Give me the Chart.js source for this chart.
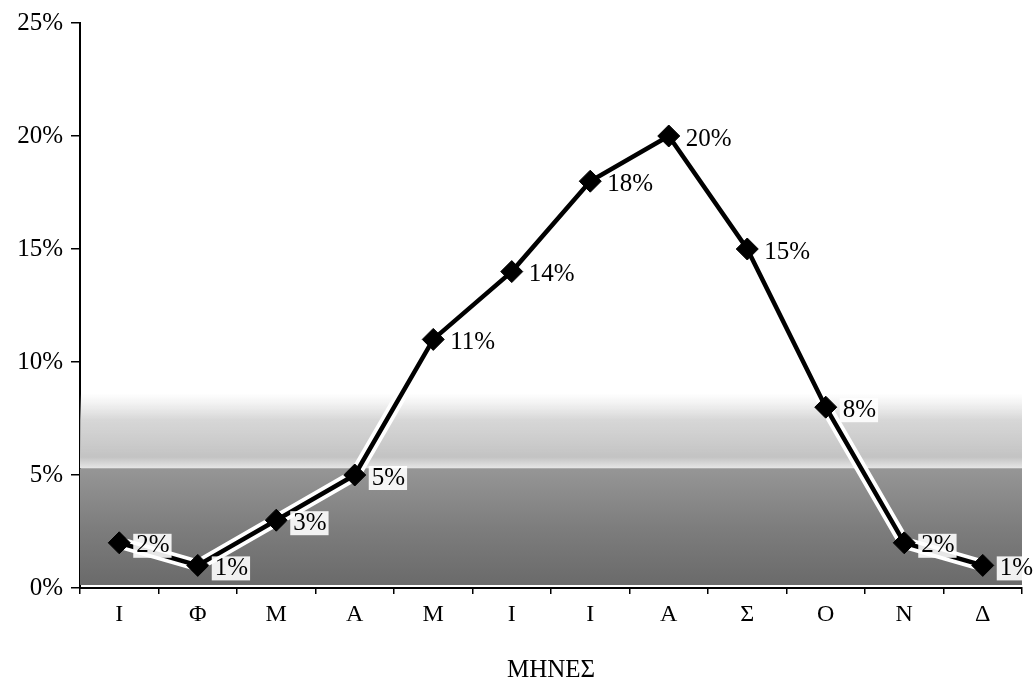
<!DOCTYPE html>
<html>
<head>
<meta charset="utf-8">
<script src="https://cdn.jsdelivr.net/npm/chart.js@4"></script>
<style>
html,body{margin:0;padding:0;background:#fff;}
#wrap{width:1034px;height:685px;}
</style>
</head>
<body>
<div id="wrap"><canvas id="c" width="1034" height="685"></canvas></div>
<script>
const months = ["Ι","Φ","Μ","Α","Μ","Ι","Ι","Α","Σ","Ο","Ν","Δ"];
const values = [2,1,3,5,11,14,18,20,15,8,2,1];
const yTicks = [0,5,10,15,20,25];
const xTitle = "ΜΗΝΕΣ";

const FONT = "'Liberation Serif','DejaVu Serif',serif";

const bgPlugin = {
  id: 'bg',
  beforeDatasetsDraw(chart) {
    const {ctx, chartArea: a, scales: {y}} = chart;
    ctx.save();
    const yTop = y.getPixelForValue(8.6);
    const yMid = y.getPixelForValue(5.3);
    const yBot = a.bottom;
    const g1 = ctx.createLinearGradient(0, yTop, 0, yMid);
    g1.addColorStop(0, 'rgba(215,215,215,0)');
    g1.addColorStop(0.35, 'rgba(205,205,205,0.8)');
    g1.addColorStop(0.85, 'rgba(195,195,195,1)');
    g1.addColorStop(1, 'rgba(230,230,230,1)');
    ctx.fillStyle = g1;
    ctx.fillRect(a.left, yTop, a.right - a.left, yMid - yTop);
    const g2 = ctx.createLinearGradient(0, yMid, 0, yBot);
    g2.addColorStop(0, 'rgb(150,150,150)');
    g2.addColorStop(0.5, 'rgb(125,125,125)');
    g2.addColorStop(1, 'rgb(105,105,105)');
    ctx.fillStyle = g2;
    ctx.fillRect(a.left, yMid, a.right - a.left, yBot - yMid - 3);
    ctx.restore();
  }
};

const labelPlugin = {
  id: 'lbl',
  afterDatasetsDraw(chart) {
    const {ctx} = chart;
    const meta = chart.getDatasetMeta(1);
    ctx.save();
    ctx.font = "25px " + FONT;
    ctx.textBaseline = 'middle';
    ctx.textAlign = 'left';
    meta.data.forEach((pt, i) => {
      const txt = values[i] + '%';
      const x = pt.x + 17, yy = pt.y + 3;
      const w = ctx.measureText(txt).width;
      if (values[i] <= 8) {
        ctx.fillStyle = 'rgba(255,255,255,0.9)';
        ctx.fillRect(x - 3, yy - 12, w + 5, 24);
      }
      ctx.fillStyle = '#000';
      ctx.fillText(txt, x, yy);
    });
    ctx.restore();
  }
};

new Chart(document.getElementById('c'), {
  type: 'line',
  data: {
    labels: months,
    datasets: [
      {
        data: values,
        borderColor: '#fff',
        borderWidth: 12,
        pointRadius: 0,
        pointHoverRadius: 0,
        tension: 0,
        order: 2
      },
      {
        data: values,
        borderColor: '#000',
        borderWidth: 4.5,
        pointStyle: 'rectRot',
        pointRadius: 11,
        pointBackgroundColor: '#000',
        pointBorderColor: '#000',
        pointBorderWidth: 1,
        tension: 0,
        order: 1
      }
    ]
  },
  options: {
    responsive: false,
    animation: false,
    events: [],
    layout: {padding: {top: 8, right: 5, left: 0, bottom: 0}},
    plugins: {legend: {display: false}, tooltip: {enabled: false}},
    scales: {
      x: {
        type: 'category',
        offset: true,
        grid: {display: true, offset: true, drawOnChartArea: false, tickLength: 6, color: '#000', lineWidth: 1.5},
        border: {display: true, color: '#000', width: 2},
        ticks: {color: '#000', font: {family: FONT, size: 24}, padding: 6, maxRotation: 0},
        title: {display: true, text: xTitle, color: '#000', font: {family: FONT, size: 25}, padding: {top: 24, bottom: 0}},
        afterFit(s) { s.height = 97; }
      },
      y: {
        min: 0, max: 25,
        afterBuildTicks(s) { s.ticks = yTicks.map(v => ({value: v})); },
        grid: {display: true, drawOnChartArea: false, tickLength: 9, color: '#000', lineWidth: 1.5},
        border: {display: true, color: '#000', width: 2},
        ticks: {color: '#000', font: {family: FONT, size: 25}, padding: 8, callback: v => v + '%'},
        afterFit(s) { s.width = 80; }
      }
    }
  },
  plugins: [bgPlugin, labelPlugin]
});
</script>
</body>
</html>
